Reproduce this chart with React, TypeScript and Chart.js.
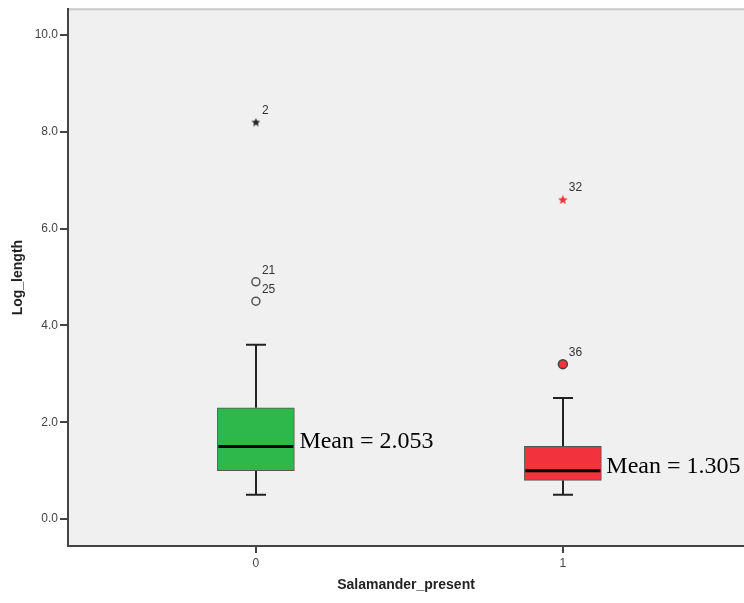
import React, { useEffect, useRef } from 'react';
import { Chart, registerables } from 'chart.js';
Chart.register(...registerables);

// ---- data ----
const categories = [0, 1];
const whiskerLow = [0.5, 0.5];
const q1 = [1.0, 0.8];
const median = [1.5, 1.0];
const q3 = [2.3, 1.5];
const whiskerHigh = [3.6, 2.5];
const meanLabels = ['Mean = 2.053', 'Mean = 1.305'];
const boxColors = ['#2eb84b', '#f2323c'];

const outlierCategory = [0, 0, 0, 1, 1];
const outlierValue = [8.2, 4.9, 4.5, 6.6, 3.2];
const outlierLabel = ['2', '21', '25', '32', '36'];
const outlierKind = ['star', 'circle', 'circle', 'star', 'circle'];
const outlierFill = ['#222222', 'rgba(0,0,0,0)', 'rgba(0,0,0,0)', '#f2323c', '#f2323c'];
const outlierStroke = ['#222222', '#555555', '#555555', '#f2323c', '#444444'];

const yTicks = [0, 2, 4, 6, 8, 10];
const xTicks = [0, 1];

function makeStar(color: string, size: number): HTMLCanvasElement {
  const c = document.createElement('canvas');
  c.width = size;
  c.height = size;
  const ctx = c.getContext('2d')!;
  const cx = size / 2, cy = size / 2;
  const R = size / 2, r = R * 0.45;
  ctx.beginPath();
  for (let i = 0; i < 10; i++) {
    const rad = i % 2 === 0 ? R : r;
    const a = -Math.PI / 2 + (i * Math.PI) / 5;
    const x = cx + rad * Math.cos(a);
    const y = cy + rad * Math.sin(a) + 0.5;
    if (i === 0) ctx.moveTo(x, y); else ctx.lineTo(x, y);
  }
  ctx.closePath();
  ctx.fillStyle = color;
  ctx.fill();
  return c;
}

const boxPlugin = {
  id: 'boxPlugin',
  beforeDraw(chart: any) {
    const { ctx, chartArea } = chart;
    ctx.save();
    ctx.fillStyle = '#f0f0f0';
    ctx.fillRect(chartArea.left, chartArea.top, chartArea.right - chartArea.left, chartArea.bottom - chartArea.top);
    ctx.strokeStyle = '#c8c8c8';
    ctx.lineWidth = 2;
    ctx.beginPath();
    ctx.moveTo(chartArea.left, chartArea.top);
    ctx.lineTo(chartArea.right, chartArea.top);
    ctx.stroke();
    ctx.restore();
  },
  beforeDatasetsDraw(chart: any) {
    const { ctx } = chart;
    const xs = chart.scales.x;
    const ys = chart.scales.y;
    ctx.save();
    ctx.strokeStyle = '#222';
    ctx.lineWidth = 2;
    categories.forEach((c, i) => {
      const px = Math.round(xs.getPixelForValue(c));
      const capHalf = 10;
      const yHi = ys.getPixelForValue(whiskerHigh[i]);
      const yQ3 = ys.getPixelForValue(q3[i]);
      const yLo = ys.getPixelForValue(whiskerLow[i]);
      const yQ1 = ys.getPixelForValue(q1[i]);
      ctx.beginPath();
      ctx.moveTo(px, yQ3);
      ctx.lineTo(px, yHi);
      ctx.moveTo(px - capHalf, yHi);
      ctx.lineTo(px + capHalf, yHi);
      ctx.moveTo(px, yQ1);
      ctx.lineTo(px, yLo);
      ctx.moveTo(px - capHalf, yLo);
      ctx.lineTo(px + capHalf, yLo);
      ctx.stroke();
    });
    ctx.restore();
  },
  afterDatasetsDraw(chart: any) {
    const { ctx } = chart;
    const xs = chart.scales.x;
    const ys = chart.scales.y;
    const halfBox = 38.5;
    ctx.save();
    categories.forEach((c, i) => {
      const px = xs.getPixelForValue(c);
      const ym = ys.getPixelForValue(median[i]);
      ctx.strokeStyle = '#000';
      ctx.lineWidth = 3;
      ctx.beginPath();
      ctx.moveTo(px - halfBox + 1, ym);
      ctx.lineTo(px + halfBox - 1, ym);
      ctx.stroke();
      const yMid = (ys.getPixelForValue(q1[i]) + ys.getPixelForValue(q3[i])) / 2;
      ctx.fillStyle = '#000';
      ctx.font = '24px "Liberation Serif"';
      ctx.textAlign = 'left';
      ctx.textBaseline = 'middle';
      ctx.fillText(meanLabels[i], px + halfBox + 5, yMid + 3);
    });
    ctx.font = '12px "Liberation Sans"';
    ctx.fillStyle = '#333';
    ctx.textAlign = 'left';
    ctx.textBaseline = 'alphabetic';
    outlierValue.forEach((v, i) => {
      const px = xs.getPixelForValue(outlierCategory[i]);
      const py = ys.getPixelForValue(v);
      ctx.fillText(outlierLabel[i], px + 6, py - 8);
    });
    ctx.restore();
  },
};

export default function App() {
  const ref = useRef<HTMLCanvasElement | null>(null);
  useEffect(() => {
    document.body.style.margin = '0';
    const stars = [makeStar('#222222', 9), makeStar('#f2323c', 10)];
    const pointStyles = outlierKind.map((k, i) =>
      k === 'star' ? (outlierCategory[i] === 0 ? stars[0] : stars[1]) : 'circle'
    );
    const chart = new Chart(ref.current!, {
      type: 'scatter',
      data: {
        datasets: [
          {
            type: 'bar',
            data: categories.map((c, i) => ({ x: c, y: [q1[i], q3[i]] })) as any,
            backgroundColor: boxColors,
            borderColor: '#555',
            borderWidth: 1,
            borderSkipped: false,
            barThickness: 77,
            grouped: false,
          } as any,
          {
            type: 'scatter',
            data: outlierValue.map((v, i) => ({ x: outlierCategory[i], y: v })),
            pointStyle: pointStyles as any,
            pointRadius: outlierKind.map((k, i) => (i === 4 ? 4.5 : 4)),
            pointBackgroundColor: outlierFill,
            pointBorderColor: outlierStroke,
            pointBorderWidth: 1.5,
          } as any,
        ],
      },
      options: {
        animation: false,
        responsive: true,
        maintainAspectRatio: false,
        layout: { autoPadding: false, padding: { top: 7, right: 0, left: 0, bottom: 0 } },
        plugins: { legend: { display: false }, tooltip: { enabled: false } },
        scales: {
          x: {
            type: 'linear',
            min: -0.612,
            max: 1.59,
            offset: false,
            afterBuildTicks: (s: any) => {
              s.ticks = xTicks.map((v) => ({ value: v }));
            },
            afterFit: (s: any) => {
              s.height = 57;
              s.paddingLeft = 0;
              s.paddingRight = 0;
            },
            ticks: {
              callback: (v: any) => String(v),
              font: { family: '"Liberation Sans"', size: 12 },
              color: '#444',
              padding: 3,
              maxRotation: 0,
            },
            grid: { drawOnChartArea: false, drawTicks: true, tickLength: 7, color: '#444', lineWidth: 2, offset: false },
            border: { color: '#444', width: 2 },
            title: {
              display: true,
              text: 'Salamander_present',
              font: { family: '"Liberation Sans"', size: 14, weight: 'bold' },
              color: '#222',
              padding: { top: 0, bottom: 9.6 },
            },
          },
          y: {
            type: 'linear',
            min: -0.556,
            max: 10.53,
            afterBuildTicks: (s: any) => {
              s.ticks = yTicks.map((v) => ({ value: v }));
            },
            afterFit: (s: any) => {
              s.width = 68;
            },
            ticks: {
              callback: (v: any) => Number(v).toFixed(1),
              font: { family: '"Liberation Sans"', size: 12 },
              color: '#444',
              padding: 2,
            },
            grid: { drawOnChartArea: false, drawTicks: true, tickLength: 8, color: '#444', lineWidth: 2 },
            border: { color: '#444', width: 2 },
            title: {
              display: true,
              text: 'Log_length',
              font: { family: '"Liberation Sans"', size: 14, weight: 'bold' },
              color: '#222',
              padding: { top: 10, bottom: 0 },
            },
          },
        },
      } as any,
      plugins: [boxPlugin],
    });
    return () => chart.destroy();
  }, []);
  return (
    <div style={{ position: 'relative', width: 744, height: 603 }}>
      <canvas ref={ref} />
    </div>
  );
}
